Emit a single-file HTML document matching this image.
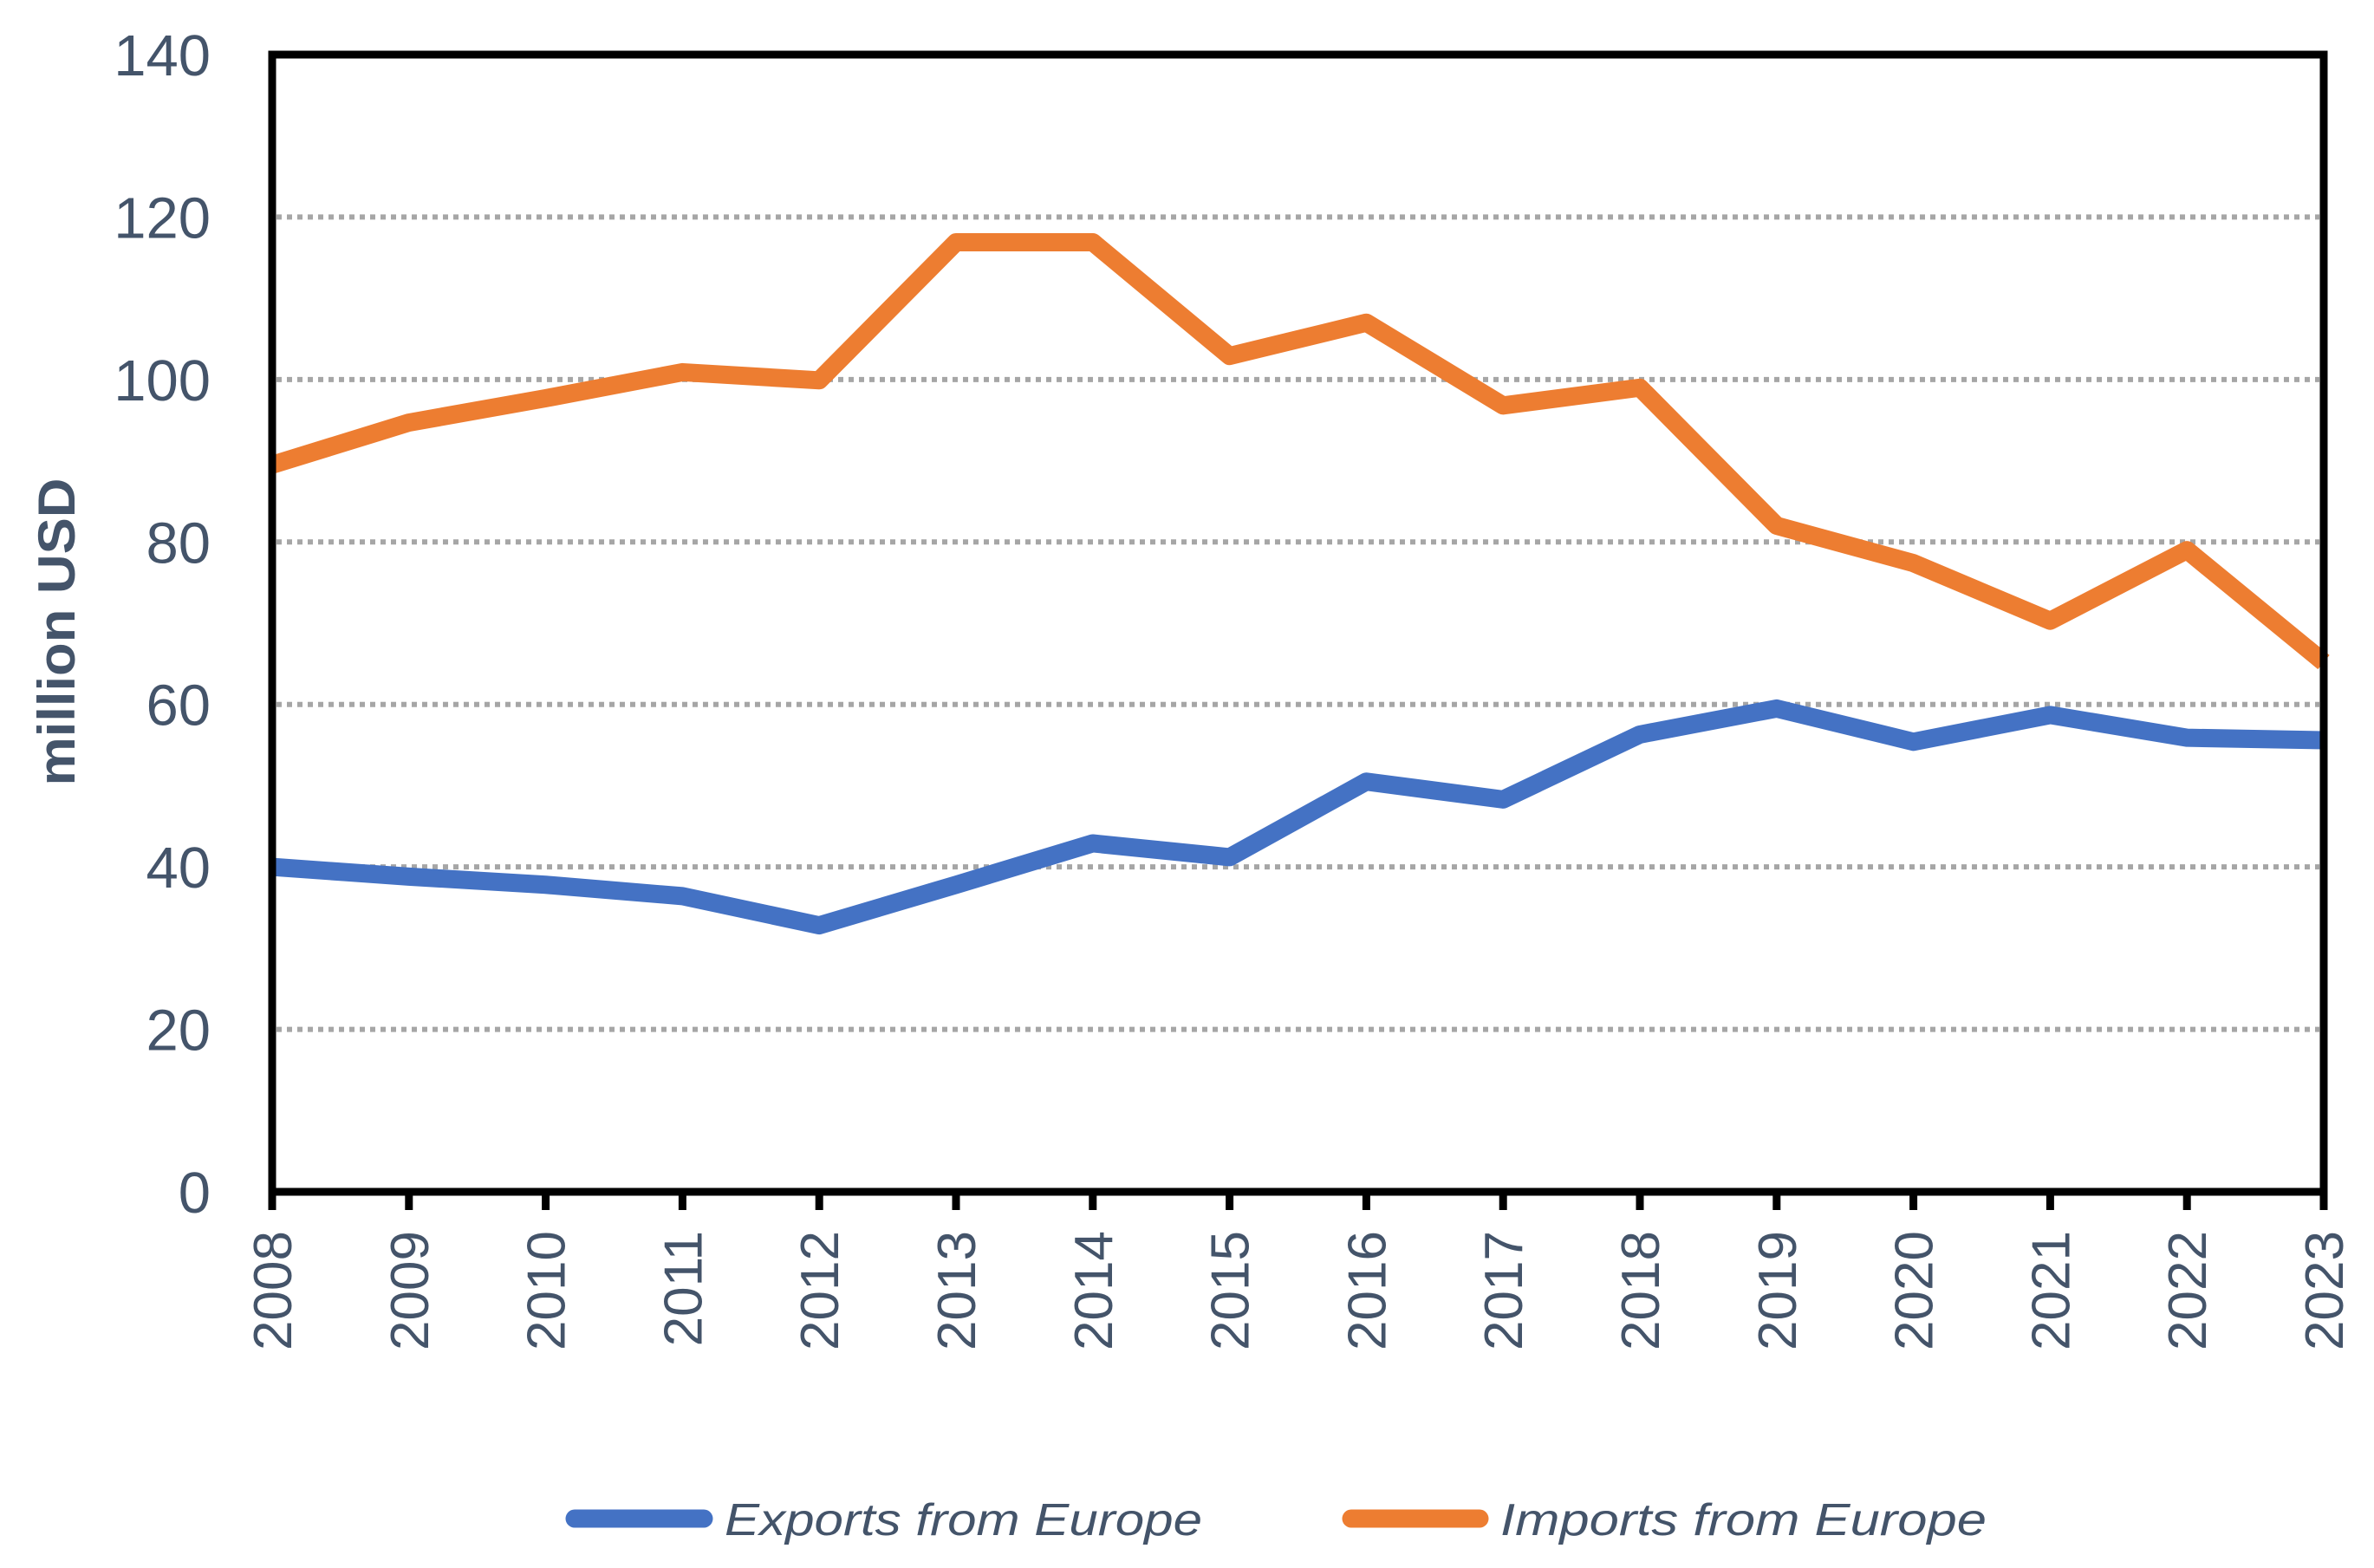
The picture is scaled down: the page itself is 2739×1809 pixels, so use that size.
<!DOCTYPE html>
<html><head><meta charset="utf-8"><style>
html,body{margin:0;padding:0;background:#fff;}
svg{display:block;}
text{font-family:"Liberation Sans",sans-serif;fill:#44546a;}
</style></head><body>
<svg id="chart" width="2739" height="1809" viewBox="0 0 2739 1809" xmlns="http://www.w3.org/2000/svg">
<g id="grid"></g>
<g id="series"></g>
<g id="axes"></g>
<text transform="translate(86,729) rotate(-90)" text-anchor="middle" font-size="60" font-weight="bold" textLength="355" lengthAdjust="spacingAndGlyphs">million USD</text>
<g>
  <g>
    <line x1="663" y1="1752" x2="812" y2="1752" stroke="#4472c4" stroke-width="21" stroke-linecap="round"/>
    <text x="836" y="1771" font-size="52" font-style="italic" textLength="551" lengthAdjust="spacingAndGlyphs">Exports from Europe</text>
  </g>
  <g>
    <line x1="1559" y1="1752" x2="1707" y2="1752" stroke="#ed7d31" stroke-width="21" stroke-linecap="round"/>
    <text x="1731" y="1771" font-size="52" font-style="italic" textLength="561" lengthAdjust="spacingAndGlyphs">Imports from Europe</text>
  </g>
</g>
</svg>
<script>
const years = ["2008","2009","2010","2011","2012","2013","2014","2015","2016","2017","2018","2019","2020","2021","2022","2023"];
const exportsVals = [40,38.8,37.8,36.4,32.8,37.8,42.9,41.2,50.5,48.3,56.3,59.5,55.4,58.7,55.9,55.6];
const importsVals = [89.5,94.7,97.7,100.9,99.9,116.9,116.9,102.9,107,96.8,99,82,77.4,70.3,79,65.2];
const yTicks = [0,20,40,60,80,100,120,140];

const NS = "http://www.w3.org/2000/svg";
const L = 314, R = 2681, T = 63, B = 1375, YMAX = 140;
function xs(i){ return L + i * (R - L) / (years.length - 1); }
function ys(v){ return B - v * (B - T) / YMAX; }
function mk(tag, attrs, parent){
  const e = document.createElementNS(NS, tag);
  for (const k in attrs) e.setAttribute(k, attrs[k]);
  parent.appendChild(e);
  return e;
}
const grid = document.getElementById('grid');
const axes = document.getElementById('axes');
const series = document.getElementById('series');

yTicks.forEach(v => {
  if (v > 0 && v < YMAX) {
    const g = mk('line', {x1: L + 5, x2: R - 5, y1: ys(v), y2: ys(v), stroke: '#a6a6a6', 'stroke-width': 6, 'stroke-dasharray': '6 6'}, grid);
    
    
  }
  const t = mk('text', {x: 243, y: ys(v) + 24, 'text-anchor': 'end', 'font-size': 67}, axes);
  t.textContent = v;
  
  
});

function drawSeries(vals, color, name){
  const pts = vals.map((v, i) => xs(i) + ',' + ys(v)).join(' ');
  const p = mk('polyline', {points: pts, fill: 'none', stroke: color, 'stroke-width': 21, 'stroke-linejoin': 'round'}, series);
  
  
}
drawSeries(exportsVals, '#4472c4', 'exports-line');
drawSeries(importsVals, '#ed7d31', 'imports-line');

const frame = mk('rect', {x: L, y: T, width: R - L, height: B - T, fill: 'none', stroke: '#000', 'stroke-width': 9}, axes);



years.forEach((yr, i) => {
  const tk = mk('line', {x1: xs(i), x2: xs(i), y1: B, y2: B + 21, stroke: '#000', 'stroke-width': 9}, axes);
  
  
  const t = mk('text', {transform: 'translate(' + (xs(i) + 22) + ',1420) rotate(-90)', 'text-anchor': 'end', 'font-size': 62}, axes);
  t.textContent = yr;
  
  
});
</script>
</body></html>
